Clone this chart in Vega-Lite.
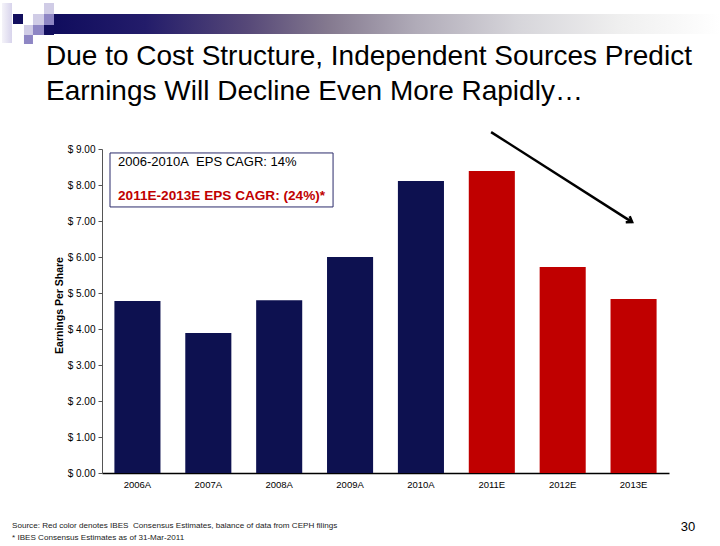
{
  "$schema": "https://vega.github.io/schema/vega-lite/v6.json",
  "width": 567,
  "height": 324,
  "autosize": "none",
  "padding": {"left": 102, "top": 149, "right": 51, "bottom": 73},
  "background": "white",
  "config": {"view": {"stroke": null}, "font": "Liberation Sans"},
  "datasets": {
    "eps": [
      {"year": "2006A", "eps": 4.78, "source": "Actual"},
      {"year": "2007A", "eps": 3.89, "source": "Actual"},
      {"year": "2008A", "eps": 4.8, "source": "Actual"},
      {"year": "2009A", "eps": 6.0, "source": "Actual"},
      {"year": "2010A", "eps": 8.11, "source": "Actual"},
      {"year": "2011E", "eps": 8.39, "source": "Estimate"},
      {"year": "2012E", "eps": 5.72, "source": "Estimate"},
      {"year": "2013E", "eps": 4.83, "source": "Estimate"}
    ],
    "notes": [
      {"role": "header", "ax": -0.82, "ax2": 8.72, "ay": 12.75, "ay2": 12.194},
      {"role": "sq", "tone": "pale", "ax": -1.411, "ax2": -1.27, "ay": 13.056, "ay2": 11.944},
      {"role": "sq", "tone": "dark", "ax": -1.256, "ax2": -1.115, "ay": 12.75, "ay2": 12.472},
      {"role": "sq", "tone": "light", "ax": -1.101, "ax2": -0.974, "ay": 12.444, "ay2": 12.167},
      {"role": "sq", "tone": "mid", "ax": -0.974, "ax2": -0.818, "ay": 12.444, "ay2": 12.167},
      {"role": "sq", "tone": "mid", "ax": -1.101, "ax2": -0.974, "ay": 12.167, "ay2": 11.917},
      {"role": "sq", "tone": "light", "ax": -0.974, "ax2": -0.818, "ay": 12.75, "ay2": 12.444},
      {"role": "sq", "tone": "mid", "ax": -0.818, "ax2": -0.677, "ay": 12.75, "ay2": 12.444},
      {"role": "sq", "tone": "dark", "ax": -0.818, "ax2": -0.677, "ay": 12.444, "ay2": 12.167},
      {"role": "sq", "tone": "light", "ax": -0.818, "ax2": -0.677, "ay": 13.056, "ay2": 12.75},
      {"role": "title", "ax": -0.79, "ay": 11.55, "label": "Due to Cost Structure, Independent Sources Predict"},
      {"role": "title", "ax": -0.79, "ay": 10.58, "label": "Earnings Will Decline Even More Rapidly…"},
      {"role": "box", "ax": 0.113, "ax2": 3.26, "ay": 8.89, "ay2": 7.39},
      {"role": "line1", "ax": 0.226, "ay": 8.64, "label": "2006-2010A\u00a0 EPS CAGR: 14%"},
      {"role": "line2", "ax": 0.226, "ay": 7.69, "label": "2011E-2013E EPS CAGR: (24%)*"},
      {"role": "arrow", "ax": 5.49, "ay": 9.47, "ax2": 7.48, "ay2": 6.97},
      {"role": "head", "ax": 7.48, "ay": 6.97},
      {"role": "foot", "ax": -1.27, "ay": -1.47, "label": "Source: Red color denotes IBES\u00a0 Consensus Estimates, balance of data from CEPH filings"},
      {"role": "foot", "ax": -1.27, "ay": -1.81, "label": "* IBES Consensus Estimates as of 31-Mar-2011"},
      {"role": "page", "ax": 8.37, "ay": -1.5, "label": "30"}
    ]
  },
  "layer": [
    {
      "data": {"name": "eps"},
      "mark": {"type": "bar"},
      "encoding": {
        "x": {
          "field": "year", "type": "nominal", "sort": null,
          "scale": {"paddingInner": 0.35, "paddingOuter": 0.175},
          "axis": {"title": null, "labelAngle": 0, "ticks": false, "labelFontSize": 9.5, "labelColor": "#000000", "labelFont": "Liberation Sans", "domainColor": "#000000", "domainWidth": 1.5, "labelPadding": 6}
        },
        "y": {
          "field": "eps", "type": "quantitative",
          "scale": {"domain": [0, 9], "nice": false},
          "axis": {
            "title": "Earnings Per Share",
            "values": [0, 1, 2, 3, 4, 5, 6, 7, 8, 9],
            "labelExpr": "'$ ' + format(datum.value, '.2f')",
            "labelFontSize": 10, "labelFont": "Liberation Sans", "labelColor": "#000000",
            "labelPadding": 3, "tickSize": 4, "tickColor": "#555555", "domainColor": "#555555",
            "grid": false, "titleFontSize": 10.5, "titleFontWeight": "bold", "titleFont": "Liberation Sans",
            "titleColor": "#000000", "titlePadding": 3, "titleY": 156
          }
        },
        "color": {"field": "source", "type": "nominal", "scale": {"domain": ["Actual", "Estimate"], "range": ["#0d1150", "#c00000"]}, "legend": null}
      }
    },
    {
      "data": {"name": "notes"},
      "encoding": {
        "x": {"field": "ax", "type": "quantitative", "scale": {"domain": [0, 8], "nice": false, "zero": false}, "axis": null},
        "y": {"field": "ay", "type": "quantitative", "scale": {"domain": [0, 9], "nice": false, "zero": false}, "axis": null}
      },
      "layer": [
        {
          "transform": [{"filter": "datum.role === 'header'"}],
          "mark": {"type": "rect", "fill": {"gradient": "linear", "x1": 0, "y1": 0, "x2": 1, "y2": 0, "stops": [
            {"offset": 0, "color": "#0e0b5c"},
            {"offset": 0.15, "color": "#231c6a"},
            {"offset": 0.3, "color": "#564878"},
            {"offset": 0.42, "color": "#84798f"},
            {"offset": 0.55, "color": "#b0abb8"},
            {"offset": 0.7, "color": "#d6d5da"},
            {"offset": 0.85, "color": "#efefef"},
            {"offset": 1, "color": "#ffffff"}
          ]}},
          "encoding": {"x2": {"field": "ax2"}, "y2": {"field": "ay2"}}
        },
        {
          "transform": [{"filter": "datum.role === 'sq' && datum.tone === 'pale'"}],
          "mark": {"type": "rect", "fill": {"gradient": "linear", "x1": 0, "y1": 0, "x2": 1, "y2": 0, "stops": [{"offset": 0, "color": "#f4f3f9"}, {"offset": 1, "color": "#d8d4ec"}]}},
          "encoding": {"x2": {"field": "ax2"}, "y2": {"field": "ay2"}}
        },
        {
          "transform": [{"filter": "datum.role === 'sq' && datum.tone === 'light'"}],
          "mark": {"type": "rect", "fill": "#d0cce6"},
          "encoding": {"x2": {"field": "ax2"}, "y2": {"field": "ay2"}}
        },
        {
          "transform": [{"filter": "datum.role === 'sq' && datum.tone === 'mid'"}],
          "mark": {"type": "rect", "fill": "#8e86c4"},
          "encoding": {"x2": {"field": "ax2"}, "y2": {"field": "ay2"}}
        },
        {
          "transform": [{"filter": "datum.role === 'sq' && datum.tone === 'dark'"}],
          "mark": {"type": "rect", "fill": "#120e5e"},
          "encoding": {"x2": {"field": "ax2"}, "y2": {"field": "ay2"}}
        },
        {
          "transform": [{"filter": "datum.role === 'title'"}],
          "mark": {"type": "text", "align": "left", "baseline": "middle", "fontSize": 28, "font": "Liberation Sans", "color": "#000000"},
          "encoding": {"text": {"field": "label"}}
        },
        {
          "transform": [{"filter": "datum.role === 'box'"}],
          "mark": {"type": "rect", "fill": "white", "stroke": "#2b2b6b", "strokeWidth": 1},
          "encoding": {"x2": {"field": "ax2"}, "y2": {"field": "ay2"}}
        },
        {
          "transform": [{"filter": "datum.role === 'line1'"}],
          "mark": {"type": "text", "align": "left", "baseline": "middle", "fontSize": 13, "font": "Liberation Sans", "color": "#000000"},
          "encoding": {"text": {"field": "label"}}
        },
        {
          "transform": [{"filter": "datum.role === 'line2'"}],
          "mark": {"type": "text", "align": "left", "baseline": "middle", "fontSize": 13.6, "fontWeight": "bold", "font": "Liberation Sans", "color": "#c00000"},
          "encoding": {"text": {"field": "label"}}
        },
        {
          "transform": [{"filter": "datum.role === 'arrow'"}],
          "mark": {"type": "rule", "color": "#000000", "strokeWidth": 2.5},
          "encoding": {"x2": {"field": "ax2"}, "y2": {"field": "ay2"}}
        },
        {
          "transform": [{"filter": "datum.role === 'head'"}],
          "mark": {"type": "point", "shape": "M-1,-0.7L0,0L-1,0.7", "filled": false, "stroke": "#000000", "strokeWidth": 2.5, "size": 110, "angle": 32.5, "opacity": 1},
          "encoding": {}
        },
        {
          "transform": [{"filter": "datum.role === 'foot'"}],
          "mark": {"type": "text", "align": "left", "baseline": "middle", "fontSize": 8.1, "font": "Liberation Sans", "color": "#222222"},
          "encoding": {"text": {"field": "label"}}
        },
        {
          "transform": [{"filter": "datum.role === 'page'"}],
          "mark": {"type": "text", "align": "right", "baseline": "middle", "fontSize": 13, "font": "Liberation Sans", "color": "#000000"},
          "encoding": {"text": {"field": "label"}}
        }
      ]
    }
  ],
  "resolve": {"scale": {"x": "independent", "y": "independent"}, "axis": {"x": "independent", "y": "independent"}}
}
